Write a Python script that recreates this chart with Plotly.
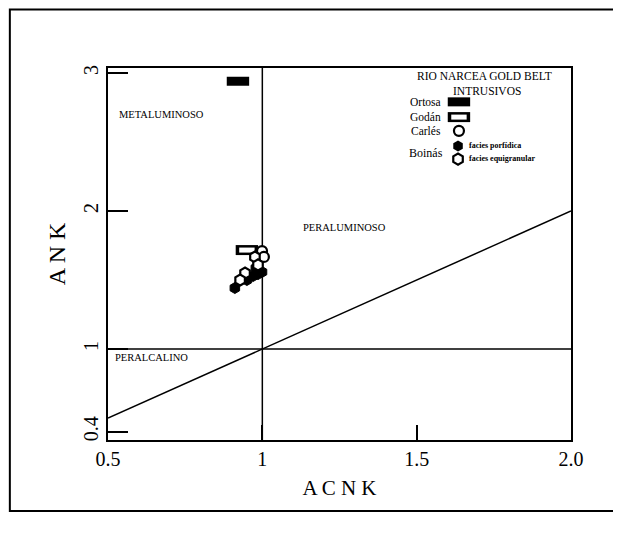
import plotly.graph_objects as go

# ---- data ----
ortosa_x = [0.921]
ortosa_y = [2.94]
godan_x = [0.950]
godan_y = [1.717]
carles_x = [0.999, 1.005]
carles_y = [1.71, 1.667]
porf_x = [0.979, 0.999, 0.970, 0.950, 0.911, 0.986]
porf_y = [1.587, 1.558, 1.529, 1.500, 1.442, 1.543]
equi_x = [0.976, 0.986, 0.944, 0.928]
equi_y = [1.667, 1.610, 1.550, 1.500]

x_ticks = [0.5, 1, 1.5, 2.0]
x_ticktext = ["0.5", "1", "1.5", "2.0"]
y_ticks = [0.4, 1, 2, 3]
y_ticktext = ["0.4", "1", "2", "3"]

diag_x = [0.5, 2.0]
diag_y = [0.5, 2.0]
vline_x = [1, 1]
vline_y = [0.341, 3.036]
hline_x = [0.5, 2.0]
hline_y = [1, 1]

SERIF = "Liberation Serif, Times New Roman, serif"
BLACK = "black"

fig = go.Figure()

line_style = dict(color=BLACK, width=1.5)
fig.add_trace(go.Scatter(x=diag_x, y=diag_y, mode="lines", line=line_style, showlegend=False, hoverinfo="skip"))
fig.add_trace(go.Scatter(x=vline_x, y=vline_y, mode="lines", line=line_style, showlegend=False, hoverinfo="skip"))
fig.add_trace(go.Scatter(x=hline_x, y=hline_y, mode="lines", line=line_style, showlegend=False, hoverinfo="skip"))

# Ortosa: filled rectangle
fig.add_trace(go.Scatter(x=ortosa_x, y=ortosa_y, mode="markers", name="Ortosa",
                         marker=dict(symbol="line-ew", size=16, line=dict(color=BLACK, width=9)),
                         showlegend=False))
# Godán: open rectangle
fig.add_trace(go.Scatter(x=godan_x, y=godan_y, mode="markers", name="Godán",
                         marker=dict(symbol="line-ew", size=16, line=dict(color=BLACK, width=10)),
                         showlegend=False))
fig.add_trace(go.Scatter(x=godan_x, y=godan_y, mode="markers", hoverinfo="skip",
                         marker=dict(symbol="line-ew", size=11, line=dict(color="white", width=5)),
                         showlegend=False))
# Boinás porfídica: filled hexagon
fig.add_trace(go.Scatter(x=porf_x, y=porf_y, mode="markers", name="facies porfídica",
                         marker=dict(symbol="hexagon", size=11, color=BLACK, line=dict(color=BLACK, width=1)),
                         showlegend=False))
# Carlés: open circle
fig.add_trace(go.Scatter(x=carles_x, y=carles_y, mode="markers", name="Carlés",
                         marker=dict(symbol="circle", size=10, color="white", line=dict(color=BLACK, width=2.2)),
                         showlegend=False))
# Boinás equigranular: open hexagon
fig.add_trace(go.Scatter(x=equi_x, y=equi_y, mode="markers", name="facies equigranular",
                         marker=dict(symbol="hexagon", size=11, color="white", line=dict(color=BLACK, width=2.2)),
                         showlegend=False))

# ---- legend samples on an overlaid 0..1 axis ----
leg_x = [0.758, 0.758, 0.758, 0.756, 0.756]
leg_y = [0.909, 0.868, 0.831, 0.790, 0.755]
fig.add_trace(go.Scatter(x=[leg_x[0]], y=[leg_y[0]], xaxis="x2", yaxis="y2", mode="markers", hoverinfo="skip",
                         marker=dict(symbol="line-ew", size=16, line=dict(color=BLACK, width=9)), showlegend=False))
fig.add_trace(go.Scatter(x=[leg_x[1]], y=[leg_y[1]], xaxis="x2", yaxis="y2", mode="markers", hoverinfo="skip",
                         marker=dict(symbol="line-ew", size=16, line=dict(color=BLACK, width=10)), showlegend=False))
fig.add_trace(go.Scatter(x=[leg_x[1]], y=[leg_y[1]], xaxis="x2", yaxis="y2", mode="markers", hoverinfo="skip",
                         marker=dict(symbol="line-ew", size=11, line=dict(color="white", width=5)), showlegend=False))
fig.add_trace(go.Scatter(x=[leg_x[2]], y=[leg_y[2]], xaxis="x2", yaxis="y2", mode="markers", hoverinfo="skip",
                         marker=dict(symbol="circle", size=10, color="white", line=dict(color=BLACK, width=2.2)), showlegend=False))
fig.add_trace(go.Scatter(x=[leg_x[3]], y=[leg_y[3]], xaxis="x2", yaxis="y2", mode="markers", hoverinfo="skip",
                         marker=dict(symbol="hexagon", size=11, color=BLACK), showlegend=False))
fig.add_trace(go.Scatter(x=[leg_x[4]], y=[leg_y[4]], xaxis="x2", yaxis="y2", mode="markers", hoverinfo="skip",
                         marker=dict(symbol="hexagon", size=11, color="white", line=dict(color=BLACK, width=2.2)), showlegend=False))

def ann(text, x, y, size, xanchor="left", bold=False):
    t = f"<b>{text}</b>" if bold else text
    fig.add_annotation(text=t, x=x, y=y, xref="paper", yref="paper", showarrow=False,
                       xanchor=xanchor, yanchor="middle", font=dict(family=SERIF, size=size, color=BLACK))

ann("RIO NARCEA GOLD BELT", 0.814, 0.978, 11.5, "center")
ann("INTRUSIVOS", 0.819, 0.938, 11.5, "center")
ann("Ortosa", 0.724, 0.909, 11.5, "right")
ann("Godán", 0.724, 0.868, 11.5, "right")
ann("Carlés", 0.724, 0.831, 11.5, "right")
ann("Boinás", 0.728, 0.772, 12, "right")
ann("facies porfídica", 0.775, 0.792, 8, "left", bold=True)
ann("facies equigranular", 0.775, 0.757, 8, "left", bold=True)
ann("METALUMINOSO", 0.019, 0.874, 10.5)
ann("PERALUMINOSO", 0.417, 0.570, 10.5)
ann("PERALCALINO", 0.011, 0.223, 10.5)

# outer frame
fig.add_shape(type="rect", xref="paper", yref="paper", x0=-0.212, x1=1.3, y0=-0.191, y1=1.157,
              line=dict(color=BLACK, width=2), fillcolor="rgba(0,0,0,0)", layer="below")

fig.update_layout(
    width=613, height=526,
    margin=dict(l=100, r=50, t=60, b=94),
    paper_bgcolor="white", plot_bgcolor="white",
    font=dict(family=SERIF, color=BLACK),
    xaxis=dict(range=[0.5, 2.0], tickvals=x_ticks, ticktext=x_ticktext, ticks="inside", ticklen=15,
               tickwidth=1.5, tickcolor=BLACK, showgrid=False, zeroline=False, showline=True, mirror=True,
               linecolor=BLACK, linewidth=1.5, tickfont=dict(family=SERIF, size=20),
               title=dict(text="A C N K", font=dict(family=SERIF, size=21), standoff=12)),
    yaxis=dict(range=[0.341, 3.036], tickvals=y_ticks, ticktext=y_ticktext, ticks="inside", ticklen=20,
               tickwidth=1.5, tickcolor=BLACK, showgrid=False, zeroline=False, showline=True, mirror=True,
               linecolor=BLACK, linewidth=1.5, tickangle=-90, tickfont=dict(family=SERIF, size=20),
               title=dict(text="A N K", font=dict(family=SERIF, size=24), standoff=8)),
    xaxis2=dict(range=[0, 1], overlaying="x", visible=False, fixedrange=True),
    yaxis2=dict(range=[0, 1], overlaying="y", visible=False, fixedrange=True),
)

fig.write_html("out.html")
